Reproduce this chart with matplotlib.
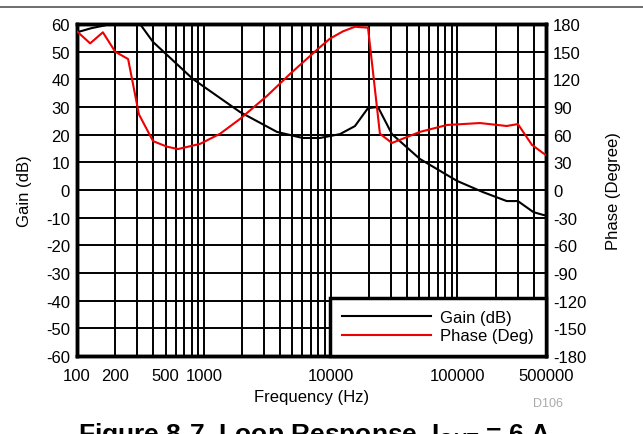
import matplotlib
matplotlib.use('Agg')
import matplotlib.pyplot as plt
from matplotlib.lines import Line2D
from matplotlib.ticker import FixedLocator, NullFormatter

plt.rcParams['font.family'] = ['Liberation Sans', 'DejaVu Sans']
plt.rcParams['mathtext.fontset'] = 'custom'
plt.rcParams['mathtext.rm'] = 'Liberation Sans'
plt.rcParams['mathtext.bf'] = 'Liberation Sans:bold'
plt.rcParams['axes.unicode_minus'] = False

# gain curve (dB)
gain_freq = [100, 130, 166, 200, 250, 314, 398, 822, 1928, 3775, 6030, 8240, 11860,
             15560, 19730, 23650, 30480, 50700, 99300, 158000, 245000, 300000, 398000, 474000, 500000]
gain_db = [57, 58.5, 59.5, 61, 61.5, 60, 53.5, 40.1, 28.2, 21, 18.8, 18.8, 20.2,
           23.1, 29.6, 30, 20.2, 11.2, 3.3, -0.7, -4, -4, -8, -9, -9.2]

# phase curve (degree)
phase_freq = [100, 127, 160, 200, 253, 308, 398, 512, 626, 934, 1344, 1928, 3150, 4800,
              7950, 9860, 12500, 15560, 19730, 24500, 30480, 50700, 82800, 150700, 245000,
              300000, 387000, 474000, 500000]
phase_deg = [172, 159, 171, 150, 142, 82, 53, 47, 44.4, 50, 61, 77, 102, 126,
             153, 164, 172, 177, 176, 61, 51, 63, 70.5, 72.6, 69.4, 71.5, 49, 40, 38]

xticks = [100, 200, 500, 1000, 10000, 100000, 500000]
xticklabels = ['100', '200', '500', '1000', '10000', '100000', '500000']

fs = 12

fig = plt.figure(figsize=(6.43, 4.35), dpi=100)
ax = fig.add_axes([77 / 643, 1 - 357 / 435, 469 / 643, 332 / 435])

l1, = ax.plot(gain_freq, gain_db, color='black', lw=1.5, label='Gain (dB)', zorder=3)
ax.set_xscale('log')
ax.set_xlim(100, 500000)
ax.set_ylim(-60, 60)
ax.set_yticks(range(-60, 61, 10))

# grid at every 1-2-3..9 of each decade
grid_x = [m * 10 ** d for d in range(2, 6) for m in range(1, 10) if m * 10 ** d <= 500000]
ax.xaxis.set_major_locator(FixedLocator(xticks))
ax.set_xticklabels(xticklabels)
ax.xaxis.set_minor_locator(FixedLocator(grid_x))
ax.xaxis.set_minor_formatter(NullFormatter())
for gx in grid_x:
    ax.axvline(gx, color='black', lw=1.4, zorder=1)
for gy in range(-60, 61, 10):
    ax.axhline(gy, color='black', lw=1.4, zorder=1)
ax.tick_params(axis='x', which='both', length=0, labelsize=fs, pad=9)
ax.tick_params(axis='y', which='both', length=0, labelsize=fs, pad=5)
ax.set_xlabel('Frequency (Hz)', fontsize=fs, labelpad=4)
ax.set_ylabel('Gain (dB)', fontsize=fs, labelpad=10)
for s in ax.spines.values():
    s.set_linewidth(2.5)

ax2 = ax.twinx()
l2, = ax2.plot(phase_freq, phase_deg, color='#ee0000', lw=1.5, label='Phase (Deg)', zorder=3)
ax2.set_ylim(-180, 180)
ax2.set_yticks(range(-180, 181, 30))
ax2.tick_params(length=0, labelsize=fs, pad=5)
ax2.set_ylabel('Phase (Degree)', fontsize=fs, labelpad=14)
for s in ax2.spines.values():
    s.set_linewidth(2.5)

leg = ax2.legend(handles=[l1, l2], loc='lower right', fontsize=fs, frameon=True,
                 fancybox=False, borderaxespad=0, handlelength=5.3, handletextpad=0.55,
                 labelspacing=0.2, borderpad=0.75)
leg.get_frame().set_edgecolor('black')
leg.get_frame().set_linewidth(2.5)
leg.get_frame().set_alpha(1)

# top rule, figure code and caption
fig.add_artist(Line2D([0, 1], [1 - 8 / 435, 1 - 8 / 435], color='#555555', lw=1.2))
fig.text(548 / 643, 1 - 404 / 435, 'D106', color='#aaaaaa', fontsize=9, ha='center', va='center')
fig.text(314 / 643, 1 - 421 / 435, r'Figure 8-7. Loop Response, $\mathbf{I_{OUT}}$ = 6 A',
         fontsize=19, fontweight='bold', ha='center', va='top')

plt.savefig('out.png', dpi=100)
